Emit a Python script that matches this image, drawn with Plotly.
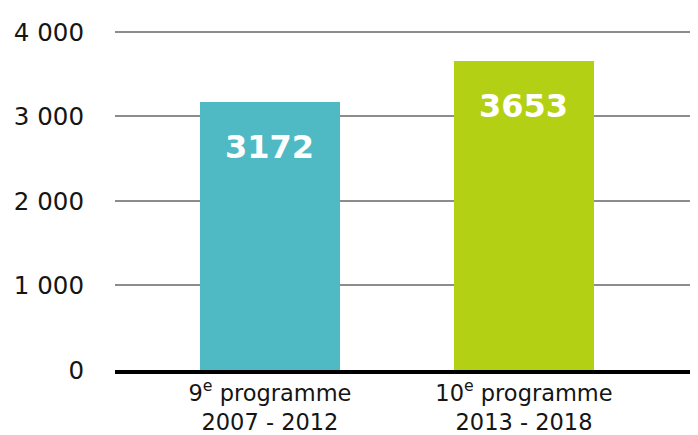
import plotly.graph_objects as go

categories = ["9<sup>e</sup> programme<br>2007 - 2012", "10<sup>e</sup> programme<br>2013 - 2018"]
values = [3172, 3653]
labels = ["3172", "3653"]
colors = ["#4FBAC4", "#B4D015"]
y_ticks = [0, 1000, 2000, 3000, 4000]
y_ticktext = ["0", "1 000", "2 000", "3 000", "4 000"]

FONT = "DejaVu Sans"

fig = go.Figure()
fig.add_trace(go.Bar(
    x=[0, 1], y=values, width=0.551, marker=dict(color=colors, line=dict(width=0)),
    hoverinfo="skip", showlegend=False,
))
for i, (v, t) in enumerate(zip(values, labels)):
    fig.add_annotation(x=i, y=v, text=t, showarrow=False, yanchor="middle", yshift=-45,
                       font=dict(family=FONT, size=32, color="white", weight="bold"))

# page body has an 8px default margin, so the figure is sized to fit the 698x435 window
fig.update_layout(
    width=690, height=427,
    margin=dict(l=107, r=0, t=20, b=65),
    plot_bgcolor="white", paper_bgcolor="white",
    font=dict(family=FONT, color="#151515"),
    bargap=0,
    xaxis=dict(
        range=[-0.610, 1.685], tickvals=[0, 1], ticktext=categories, automargin=False,
        showgrid=False, zeroline=False, showline=True, linecolor="#000000", linewidth=3.5,
        ticks="", ticklabelstandoff=0, tickfont=dict(size=22.5, color="#151515"), fixedrange=True,
    ),
    yaxis=dict(
        range=[0, 4047], tickvals=y_ticks, ticktext=y_ticktext, automargin=False,
        showgrid=True, gridcolor="#8C8C8C", gridwidth=1.5, zeroline=False, showline=False,
        ticks="", ticklabelstandoff=30, tickfont=dict(size=24.5, color="#151515"), fixedrange=True,
    ),
)
fig.write_html("out.html")
